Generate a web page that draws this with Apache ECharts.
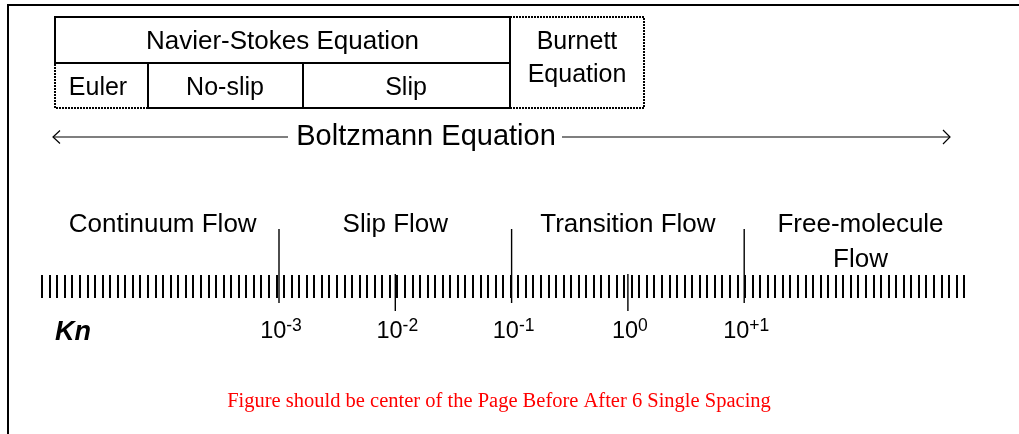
<!DOCTYPE html>
<html>
<head>
<meta charset="utf-8">
<script src="https://cdn.jsdelivr.net/npm/echarts@6/dist/echarts.min.js"></script>
<style>html,body{margin:0;padding:0;background:#fff}#c{width:1019px;height:434px}</style>
</head>
<body>
<div id="c"></div>
<script>
// ---------- data ----------
const KN_EXPONENTS = [-3, -2, -1, 0, 1];
const KN_EXPONENT_LABELS = ['-3', '-2', '-1', '0', '+1'];
const REGIME_BOUNDARIES = [-3, -1, 1];
const REGIME_NAMES = ['Continuum Flow', 'Slip Flow', 'Transition Flow', 'Free-molecule\nFlow'];
const REGIME_CENTERS = [-4, -2, 0, 2];
const HATCH_INTERVALS = 122;
const NS_TITLE = 'Navier-Stokes Equation';
const NS_SUBMODELS = ['Euler', 'No-slip', 'Slip'];
const BURNETT_TITLE = 'Burnett\nEquation';
const BOLTZMANN_TITLE = 'Boltzmann Equation';
const AXIS_TITLE = 'Kn';
const CAPTION = 'Figure should be center of the Page Before After 6 Single Spacing';

// ---------- layout / style ----------
const SANS = '"Liberation Sans", Arial, Helvetica, sans-serif';
const SERIF = '"Liberation Serif", "Times New Roman", serif';
const BOX = {left: 55, right: 510, top: 17, mid: 63, bottom: 108, burnettRight: 644};
const SUB_X = [55, 148, 303, 510];
const SUB_TEXT_X = [98, 225, 406];

function textEl(text, x, y, font, extra) {
  return {
    type: 'text', x: x, y: y, silent: true,
    style: Object.assign({
      text: text, font: font, fill: '#000',
      align: 'center', verticalAlign: 'middle',
      textAlign: 'center', textVerticalAlign: 'middle'
    }, extra || {})
  };
}
const solid = {stroke: '#000', lineWidth: 2, fill: null};
const dotted = {stroke: '#000', lineWidth: 2, fill: null, lineDash: [2, 1]};

const graphics = [];
// frame
graphics.push({type: 'polyline', shape: {points: [[1019, 5], [8, 5], [8, 434]]}, style: solid});
// Navier-Stokes box
graphics.push({type: 'rect', shape: {x: BOX.left, y: BOX.top, width: BOX.right - BOX.left, height: BOX.mid - BOX.top}, style: solid});
graphics.push(textEl(NS_TITLE, (BOX.left + BOX.right) / 2, 42, '26px ' + SANS));
// sub-models
NS_SUBMODELS.forEach(function (name, i) {
  if (i === 0) {
    graphics.push({type: 'polyline', shape: {points: [[SUB_X[1], BOX.bottom], [SUB_X[0], BOX.bottom], [SUB_X[0], BOX.mid]]}, style: dotted});
  } else {
    graphics.push({type: 'rect', shape: {x: SUB_X[i], y: BOX.mid, width: SUB_X[i + 1] - SUB_X[i], height: BOX.bottom - BOX.mid}, style: solid});
  }
  graphics.push(textEl(name, SUB_TEXT_X[i], 88, '25px ' + SANS));
});
// Burnett box
graphics.push({type: 'polyline', shape: {points: [[BOX.right, BOX.top], [BOX.burnettRight, BOX.top], [BOX.burnettRight, BOX.bottom], [BOX.right, BOX.bottom]]}, style: dotted});
graphics.push(textEl(BURNETT_TITLE, (BOX.right + BOX.burnettRight) / 2, 59, '25px ' + SANS, {lineHeight: 33}));
// Boltzmann arrow
const arrowStyle = {stroke: '#000', lineWidth: 1.2, fill: null};
graphics.push({type: 'line', shape: {x1: 53, y1: 137, x2: 288, y2: 137}, style: arrowStyle});
graphics.push({type: 'line', shape: {x1: 562, y1: 137, x2: 950, y2: 137}, style: arrowStyle});
graphics.push({type: 'polyline', shape: {points: [[60, 130.5], [53, 137], [60, 143.5]]}, style: arrowStyle});
graphics.push({type: 'polyline', shape: {points: [[943, 130], [950, 137], [943, 144]]}, style: arrowStyle});
graphics.push(textEl(BOLTZMANN_TITLE, 426, 137, '29px ' + SANS));
// axis title and caption
graphics.push(textEl(AXIS_TITLE, 73, 333, 'italic bold 27px ' + SANS));
graphics.push(textEl(CAPTION, 499, 402, '20.5px ' + SERIF, {fill: '#ff0000'}));

const chart = echarts.init(document.getElementById('c'), null, {renderer: 'canvas'});
chart.setOption({
  backgroundColor: '#fff',
  animation: false,
  grid: [
    {left: 46.4, right: 42.2, top: 0, bottom: 0},
    {left: 42, width: 922, top: 275, height: 23}
  ],
  xAxis: [
    {gridIndex: 0, type: 'value', min: -5, max: 3, show: false},
    {gridIndex: 1, type: 'value', min: 0, max: HATCH_INTERVALS, interval: 1,
     axisLine: {show: false}, axisLabel: {show: false}, splitLine: {show: false},
     axisTick: {show: true, inside: true, length: 23, lineStyle: {color: '#000', width: 2}}}
  ],
  yAxis: [
    {gridIndex: 0, type: 'value', min: 0, max: 434, inverse: true, show: false},
    {gridIndex: 1, type: 'value', min: 0, max: 1, show: false}
  ],
  graphic: {elements: graphics},
  series: [
    {
      type: 'custom', xAxisIndex: 0, yAxisIndex: 0, silent: true,
      data: KN_EXPONENTS.map(function (e, i) { return [e, i]; }),
      renderItem: function (params, api) {
        const e = api.value(0);
        const x = api.coord([e, 0])[0];
        const b = REGIME_BOUNDARIES.indexOf(e) >= 0;
        return {type: 'line', shape: {x1: x, y1: b ? 229 : 274, x2: x, y2: b ? 303 : 311},
                style: {stroke: '#000', lineWidth: 1.4}};
      }
    },
    {
      type: 'custom', xAxisIndex: 0, yAxisIndex: 0, silent: true,
      data: KN_EXPONENTS.map(function (e, i) { return [e, i]; }),
      renderItem: function (params, api) {
        const e = api.value(0);
        const i = api.value(1);
        const x = api.coord([e, 0])[0];
        return {type: 'text', x: x + 2, y: 317,
                style: {text: '{m|10}{s|' + KN_EXPONENT_LABELS[i] + '}',
                        align: 'center', verticalAlign: 'top', textAlign: 'center', textVerticalAlign: 'top',
                        fill: '#000', font: '23.5px ' + SANS,
                        rich: {m: {font: '23.5px ' + SANS, fontSize: 23.5, fontFamily: SANS, lineHeight: 30, fill: '#000'},
                               s: {font: '17.5px ' + SANS, fontSize: 17.5, fontFamily: SANS, lineHeight: 17.5, verticalAlign: 'top', fill: '#000'}}}};
      }
    },
    {
      type: 'custom', xAxisIndex: 0, yAxisIndex: 0, silent: true,
      data: REGIME_CENTERS.map(function (e, i) { return [e, i]; }),
      renderItem: function (params, api) {
        const e = api.value(0);
        const i = api.value(1);
        const x = api.coord([e, 0])[0];
        return {type: 'text', x: x, y: 225 - 17.5,
                style: {text: REGIME_NAMES[i], font: '26px ' + SANS, fill: '#000', lineHeight: 35,
                        align: 'center', verticalAlign: 'top', textAlign: 'center', textVerticalAlign: 'top'}};
      }
    },
    {type: 'line', xAxisIndex: 1, yAxisIndex: 1, data: [], silent: true}
  ]
});
</script>
</body>
</html>
